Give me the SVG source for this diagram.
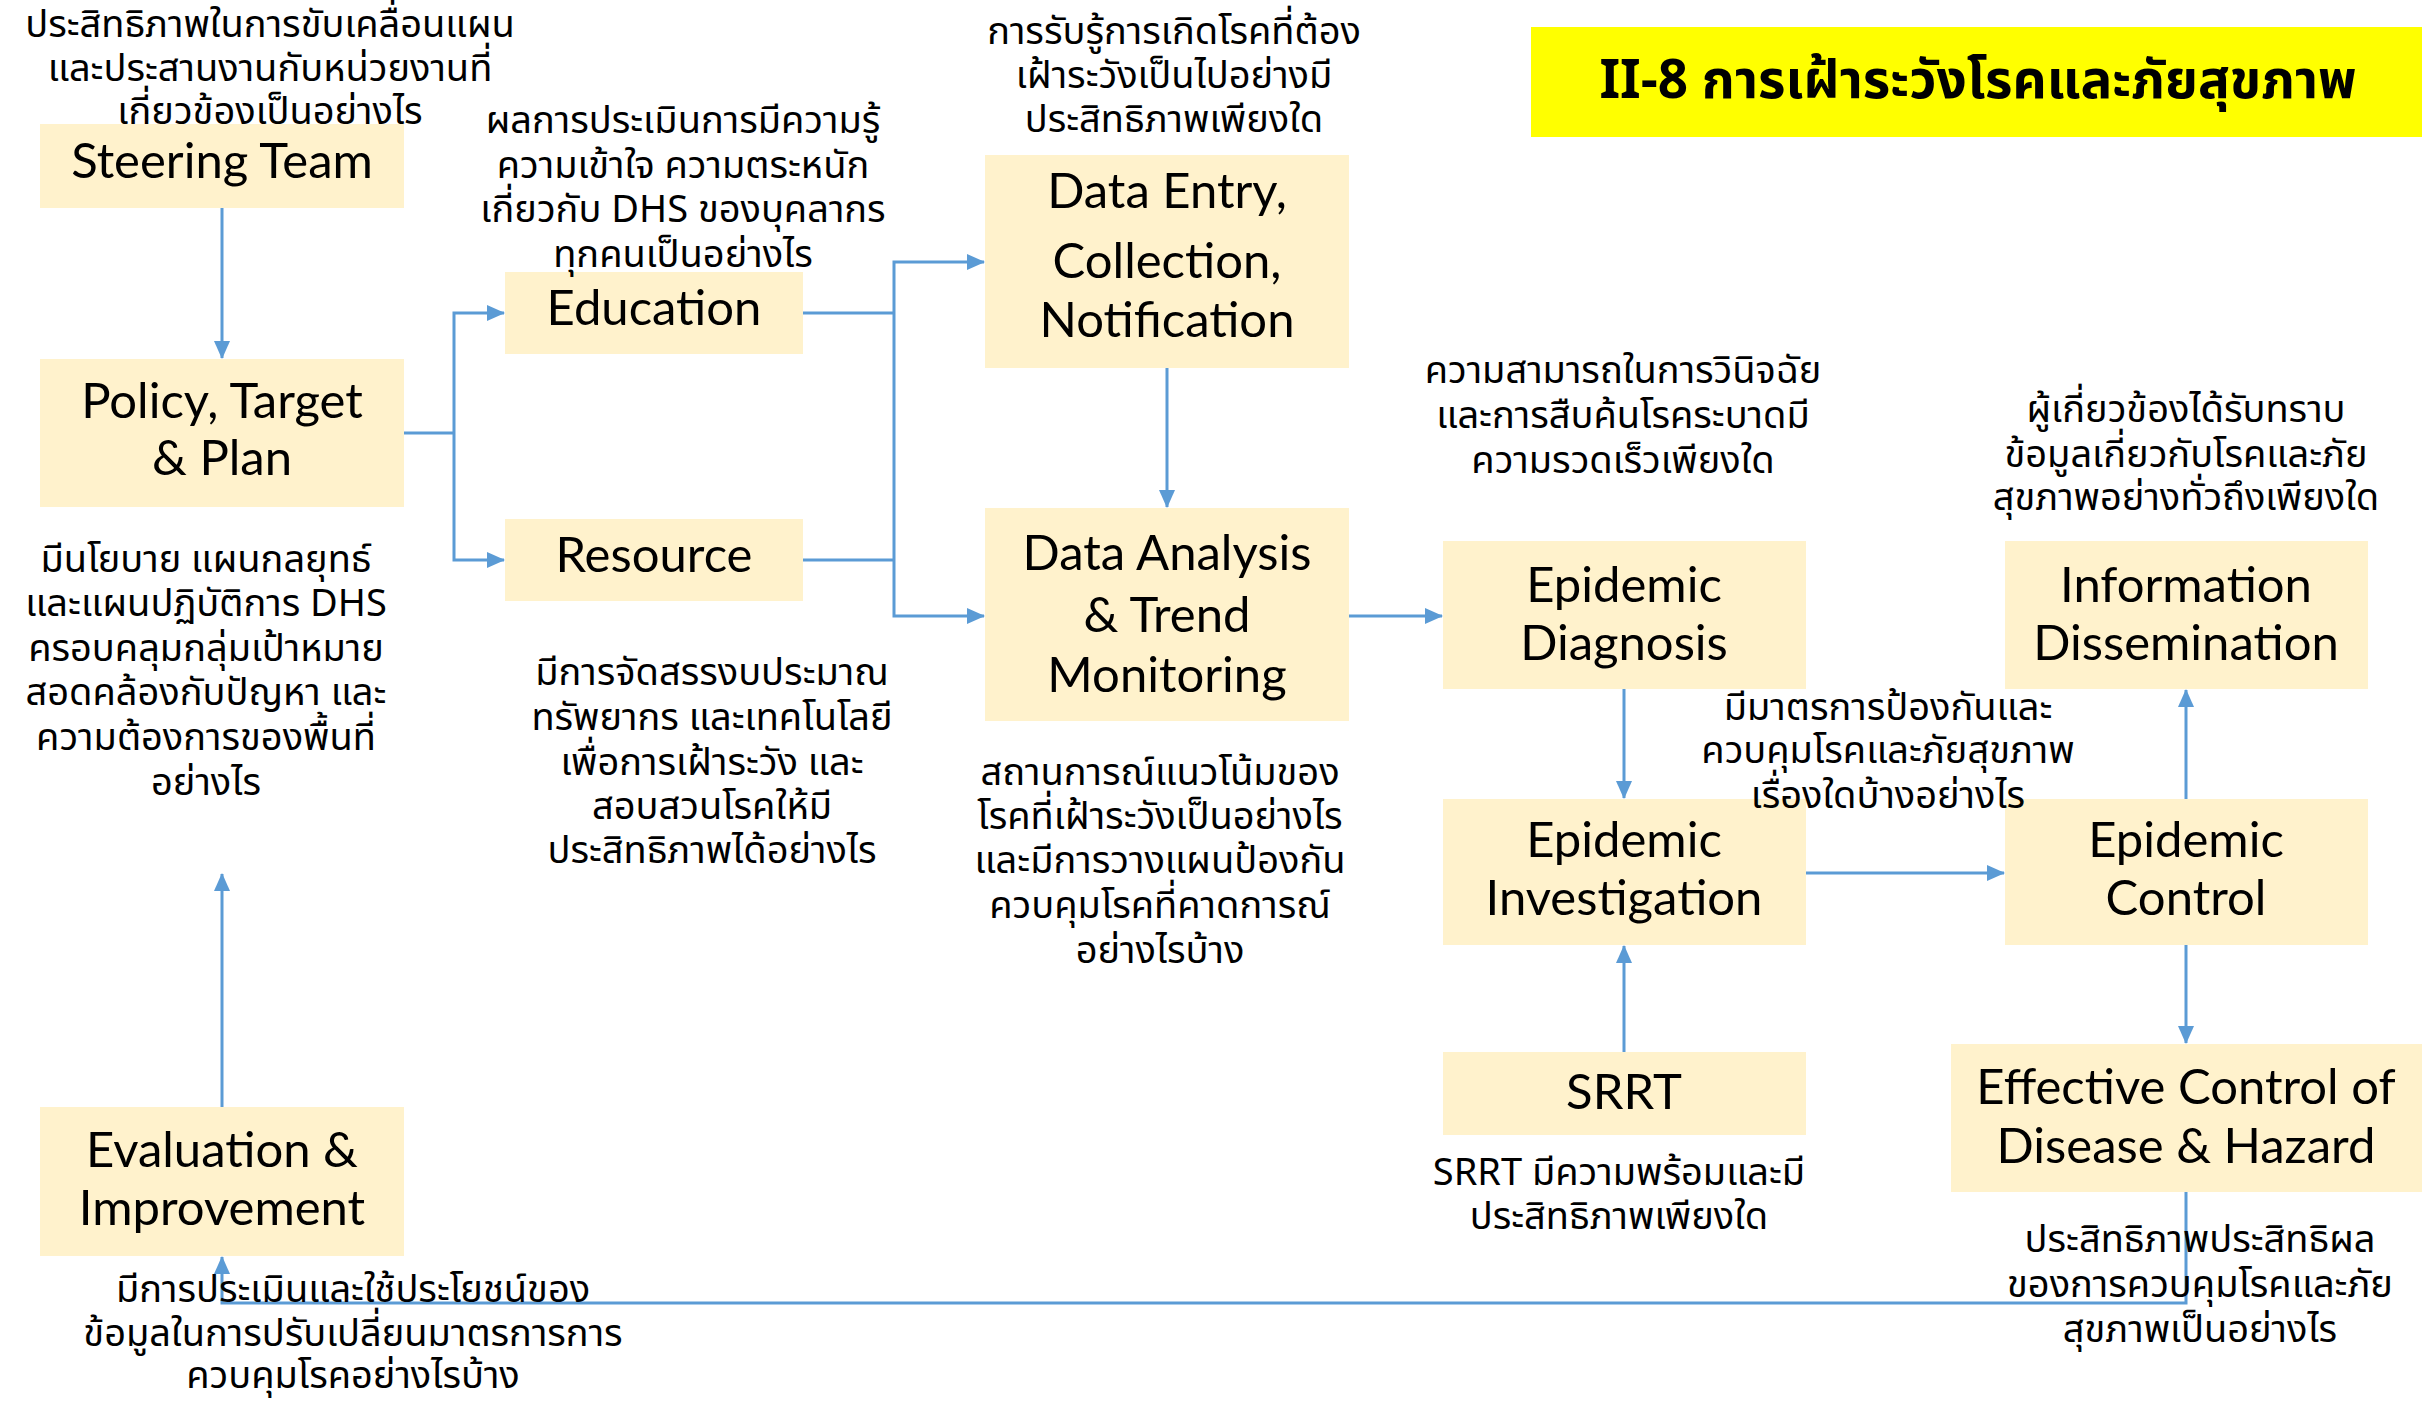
<svg xmlns="http://www.w3.org/2000/svg" width="2422" height="1404" viewBox="0 0 2422 1404">
<defs>
<style>
.box{fill:#FFF2CC;}
.lbl{font-family:Lato,"Open Sans","Noto Sans",sans-serif;font-size:49px;fill:#000;text-anchor:middle;}
.th{font-family:"Noto Sans Thai","Noto Sans","DejaVu Sans",sans-serif;font-size:38px;fill:#000;text-anchor:middle;}
.title{font-family:"Noto Sans Thai","Noto Sans","DejaVu Sans",sans-serif;font-size:53px;font-weight:bold;fill:#000;text-anchor:middle;}
.ln{fill:none;stroke:#5B9BD5;stroke-width:3;}
.arr{marker-end:url(#ah);}
</style>
<marker id="ah" markerUnits="userSpaceOnUse" markerWidth="18" markerHeight="18" viewBox="0 0 18 18" refX="17" refY="9" orient="auto">
<path d="M0,1 L18,9 L0,17 Z" fill="#5B9BD5"/>
</marker>
</defs>
<rect width="2422" height="1404" fill="#FFFFFF"/>

<g id="title">
<rect x="1531" y="27" width="891" height="110" fill="#FFFF00"/>
<text class="title" x="1978" y="98">II-8 การเฝ้าระวังโรคและภัยสุขภาพ</text>
</g>

<g id="connectors">
<path class="ln arr" d="M222,208 V358"/>
<path class="ln" d="M404,433 H454"/>
<path class="ln arr" d="M454,433 V313 H504"/>
<path class="ln arr" d="M454,433 V560 H504"/>
<path class="ln" d="M803,313 H894"/>
<path class="ln" d="M803,560 H894"/>
<path class="ln arr" d="M894,440 V262 H984"/>
<path class="ln arr" d="M894,440 V616 H984"/>
<path class="ln arr" d="M1167,368 V507"/>
<path class="ln arr" d="M1348,616 H1442"/>
<path class="ln arr" d="M1624,689 V798"/>
<path class="ln arr" d="M1624,1052 V946"/>
<path class="ln arr" d="M1806,873 H2004"/>
<path class="ln arr" d="M2186,799 V690"/>
<path class="ln arr" d="M2186,945 V1043"/>
<path class="ln arr" d="M2186,1191 V1303 H222 V1257"/>
<path class="ln arr" d="M222,1107 V874"/>
</g>

<g id="steering-team">
<rect class="box" x="40" y="124" width="364" height="84"/>
<text class="lbl" x="222" y="178">Steering Team</text>
</g>
<g id="policy">
<rect class="box" x="40" y="359" width="364" height="148"/>
<text class="lbl" x="222" y="418">Policy, Target</text>
<text class="lbl" x="222" y="475">&amp; Plan</text>
</g>
<g id="education">
<rect class="box" x="505" y="272" width="298" height="82"/>
<text class="lbl" x="654" y="325">Education</text>
</g>
<g id="resource">
<rect class="box" x="505" y="519" width="298" height="82"/>
<text class="lbl" x="654" y="572">Resource</text>
</g>
<g id="data-entry">
<rect class="box" x="985" y="155" width="364" height="213"/>
<text class="lbl" x="1167" y="208">Data Entry,</text>
<text class="lbl" x="1167" y="278">Collection,</text>
<text class="lbl" x="1167" y="337">Notification</text>
</g>
<g id="data-analysis">
<rect class="box" x="985" y="508" width="364" height="213"/>
<text class="lbl" x="1167" y="570">Data Analysis</text>
<text class="lbl" x="1167" y="632">&amp; Trend</text>
<text class="lbl" x="1167" y="692">Monitoring</text>
</g>
<g id="epidemic-diagnosis">
<rect class="box" x="1443" y="541" width="363" height="148"/>
<text class="lbl" x="1624" y="602">Epidemic</text>
<text class="lbl" x="1624" y="660">Diagnosis</text>
</g>
<g id="epidemic-investigation">
<rect class="box" x="1443" y="799" width="363" height="146"/>
<text class="lbl" x="1624" y="857">Epidemic</text>
<text class="lbl" x="1624" y="915">Investigation</text>
</g>
<g id="srrt">
<rect class="box" x="1443" y="1052" width="363" height="83"/>
<text class="lbl" x="1624" y="1109">SRRT</text>
</g>
<g id="information-dissemination">
<rect class="box" x="2005" y="541" width="363" height="148"/>
<text class="lbl" x="2186" y="602">Information</text>
<text class="lbl" x="2186" y="660">Dissemination</text>
</g>
<g id="epidemic-control">
<rect class="box" x="2005" y="799" width="363" height="146"/>
<text class="lbl" x="2186" y="857">Epidemic</text>
<text class="lbl" x="2186" y="915">Control</text>
</g>
<g id="effective-control">
<rect class="box" x="1951" y="1044" width="471" height="148"/>
<text class="lbl" x="2186" y="1104">Effective Control of</text>
<text class="lbl" x="2186" y="1163">Disease &amp; Hazard</text>
</g>
<g id="evaluation">
<rect class="box" x="40" y="1107" width="364" height="149"/>
<text class="lbl" x="222" y="1167">Evaluation &amp;</text>
<text class="lbl" x="222" y="1225">Improvement</text>
</g>

<g id="notes">
<text class="th" x="270" y="37">ประสิทธิภาพในการขับเคลื่อนแผน</text>
<text class="th" x="270" y="81">และประสานงานกับหน่วยงานที่</text>
<text class="th" x="270" y="124">เกี่ยวข้องเป็นอย่างไร</text>

<text class="th" x="683" y="133">ผลการประเมินการมีความรู้</text>
<text class="th" x="683" y="178">ความเข้าใจ ความตระหนัก</text>
<text class="th" x="683" y="222">เกี่ยวกับ DHS ของบุคลากร</text>
<text class="th" x="683" y="267">ทุกคนเป็นอย่างไร</text>

<text class="th" x="206" y="572">มีนโยบาย แผนกลยุทธ์</text>
<text class="th" x="206" y="616">และแผนปฏิบัติการ DHS</text>
<text class="th" x="206" y="661">ครอบคลุมกลุ่มเป้าหมาย</text>
<text class="th" x="206" y="705">สอดคล้องกับปัญหา และ</text>
<text class="th" x="206" y="750">ความต้องการของพื้นที่</text>
<text class="th" x="206" y="795">อย่างไร</text>

<text class="th" x="712" y="685">มีการจัดสรรงบประมาณ</text>
<text class="th" x="712" y="730">ทรัพยากร และเทคโนโลยี</text>
<text class="th" x="712" y="775">เพื่อการเฝ้าระวัง และ</text>
<text class="th" x="712" y="819">สอบสวนโรคให้มี</text>
<text class="th" x="712" y="863">ประสิทธิภาพได้อย่างไร</text>

<text class="th" x="1174" y="44">การรับรู้การเกิดโรคที่ต้อง</text>
<text class="th" x="1174" y="88">เฝ้าระวังเป็นไปอย่างมี</text>
<text class="th" x="1174" y="132">ประสิทธิภาพเพียงใด</text>

<text class="th" x="1160" y="785">สถานการณ์แนวโน้มของ</text>
<text class="th" x="1160" y="829">โรคที่เฝ้าระวังเป็นอย่างไร</text>
<text class="th" x="1160" y="873">และมีการวางแผนป้องกัน</text>
<text class="th" x="1160" y="918">ควบคุมโรคที่คาดการณ์</text>
<text class="th" x="1160" y="963">อย่างไรบ้าง</text>

<text class="th" x="1623" y="383">ความสามารถในการวินิจฉัย</text>
<text class="th" x="1623" y="428">และการสืบค้นโรคระบาดมี</text>
<text class="th" x="1623" y="473">ความรวดเร็วเพียงใด</text>

<text class="th" x="2186" y="422">ผู้เกี่ยวข้องได้รับทราบ</text>
<text class="th" x="2186" y="467">ข้อมูลเกี่ยวกับโรคและภัย</text>
<text class="th" x="2186" y="510">สุขภาพอย่างทั่วถึงเพียงใด</text>

<text class="th" x="1888" y="720">มีมาตรการป้องกันและ</text>
<text class="th" x="1888" y="763">ควบคุมโรคและภัยสุขภาพ</text>
<text class="th" x="1888" y="808">เรื่องใดบ้างอย่างไร</text>

<text class="th" x="1619" y="1185">SRRT มีความพร้อมและมี</text>
<text class="th" x="1619" y="1229">ประสิทธิภาพเพียงใด</text>

<text class="th" x="2200" y="1252">ประสิทธิภาพประสิทธิผล</text>
<text class="th" x="2200" y="1297">ของการควบคุมโรคและภัย</text>
<text class="th" x="2200" y="1342">สุขภาพเป็นอย่างไร</text>

<text class="th" x="353" y="1302">มีการประเมินและใช้ประโยชน์ของ</text>
<text class="th" x="353" y="1346">ข้อมูลในการปรับเปลี่ยนมาตรการการ</text>
<text class="th" x="353" y="1388">ควบคุมโรคอย่างไรบ้าง</text>
</g>
</svg>
